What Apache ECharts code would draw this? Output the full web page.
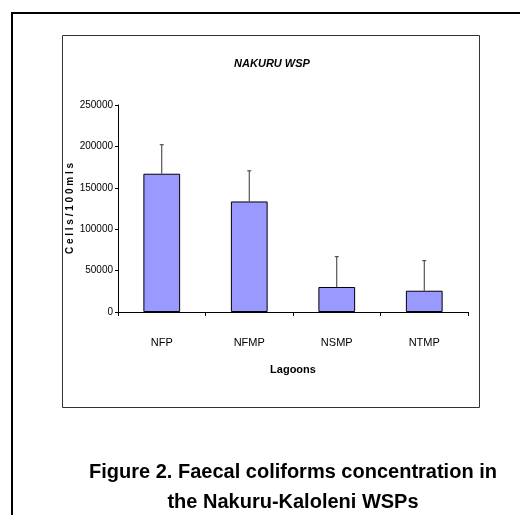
<!DOCTYPE html>
<html><head><meta charset="utf-8">
<script src="https://cdn.jsdelivr.net/npm/echarts@6/dist/echarts.min.js"></script>
<style>html,body{margin:0;padding:0;background:#fff}#c{width:520px;height:515px}</style>
</head><body><div id="c"></div>
<script>
const categories = ['NFP', 'NFMP', 'NSMP', 'NTMP'];
const means = [167000, 133500, 30200, 25700];
const upperErr = [202000, 170500, 66800, 62000];
const yTicks = [0, 50000, 100000, 150000, 200000, 250000];

const FN = '"Liberation Sans Narrow", "Arial Narrow", "Liberation Sans", Arial, sans-serif';
const chart = echarts.init(document.getElementById('c'));
chart.setOption({
  animation: false,
  backgroundColor: '#fff',
  title: {
    text: 'NAKURU WSP', left: 267, top: 53, textAlign: 'center',
    textStyle: { fontFamily: FN, fontSize: 11, fontStyle: 'italic', fontWeight: 'bold', color: '#000' }
  },
  grid: { left: 118, right: 52, top: 105, bottom: 203 },
  xAxis: {
    type: 'category', data: categories,
    name: 'Lagoons', nameLocation: 'middle', nameGap: 52,
    nameTextStyle: { fontFamily: FN, fontSize: 11, fontWeight: 'bold', color: '#000' },
    axisLine: { lineStyle: { color: '#000', width: 1 } },
    axisTick: { show: true, alignWithLabel: false, length: 4, lineStyle: { color: '#000' } },
    axisLabel: { fontFamily: FN, fontSize: 11, color: '#000', margin: 25 }
  },
  yAxis: {
    type: 'value', min: yTicks[0], max: yTicks[yTicks.length - 1], interval: 50000,
    name: 'C e l l s / 1 0 0 m l s', nameLocation: 'middle', nameGap: 43, nameRotate: 90,
    nameMoveOverlap: false,
    nameTextStyle: { fontFamily: FN, fontSize: 10, fontWeight: 'bold', color: '#000' },
    axisLine: { show: true, lineStyle: { color: '#000', width: 1 } },
    axisTick: { show: true, length: 3, lineStyle: { color: '#000' } },
    axisLabel: { fontFamily: FN, fontSize: 10, color: '#000', margin: 5, formatter: v => String(v) },
    splitLine: { show: false }
  },
  series: [
    {
      type: 'bar', data: means, barWidth: '42%',
      itemStyle: { color: '#9999FF', borderColor: '#000', borderWidth: 1 }
    },
    {
      type: 'custom',
      data: categories.map((c, i) => [i, means[i], upperErr[i]]),
      renderItem: function (params, api) {
        const p0 = api.coord([api.value(0), api.value(1)]);
        const p1 = api.coord([api.value(0), api.value(2)]);
        return {
          type: 'group',
          children: [
            { type: 'line', shape: { x1: p0[0], y1: p0[1], x2: p1[0], y2: p1[1] }, style: { stroke: '#333', lineWidth: 1 } },
            { type: 'line', shape: { x1: p1[0] - 2, y1: p1[1], x2: p1[0] + 2, y2: p1[1] }, style: { stroke: '#333', lineWidth: 1 } }
          ]
        };
      },
      z: 5
    }
  ],
  graphic: [
    { type: 'rect', shape: { x: 12, y: 13, width: 520, height: 520 }, style: { fill: 'none', stroke: '#000', lineWidth: 2 }, silent: true },
    { type: 'rect', shape: { x: 62.5, y: 35.5, width: 417, height: 372 }, style: { fill: 'none', stroke: '#333', lineWidth: 1 }, silent: true },
    { type: 'text', style: { x: 293, y: 472, text: 'Figure 2. Faecal coliforms concentration in', textAlign: 'center', textVerticalAlign: 'middle', font: 'bold 20px "Liberation Sans", Arial, sans-serif', fill: '#000' } },
    { type: 'text', style: { x: 293, y: 502, text: 'the Nakuru-Kaloleni WSPs', textAlign: 'center', textVerticalAlign: 'middle', font: 'bold 20px "Liberation Sans", Arial, sans-serif', fill: '#000' } }
  ]
});
</script></body></html>
